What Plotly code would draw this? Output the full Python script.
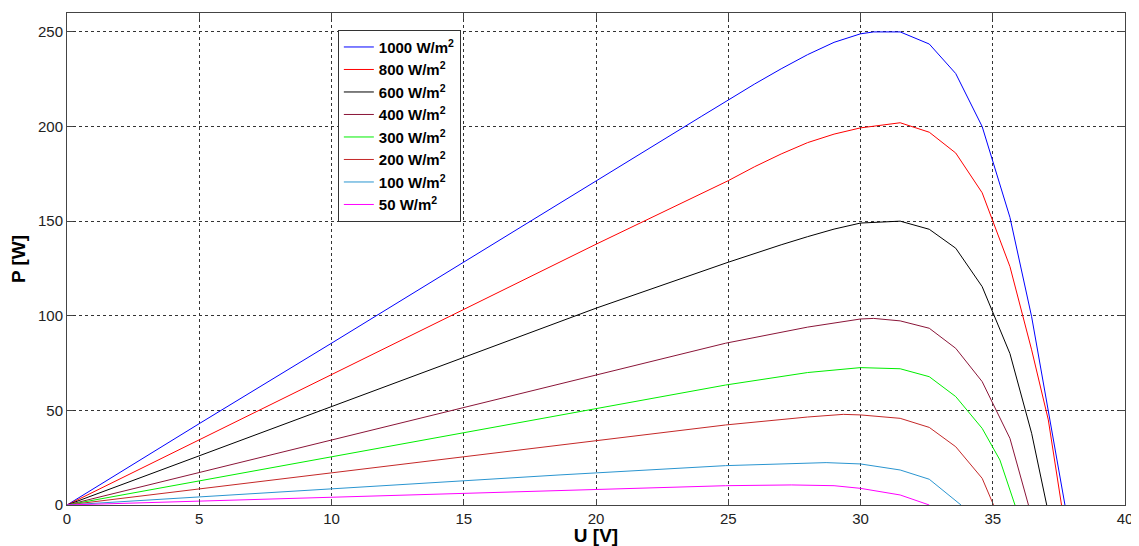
import plotly.graph_objects as go

labels = ["1000 W/m<sup>2</sup>", "800 W/m<sup>2</sup>", "600 W/m<sup>2</sup>", "400 W/m<sup>2</sup>",
          "300 W/m<sup>2</sup>", "200 W/m<sup>2</sup>", "100 W/m<sup>2</sup>", "50 W/m<sup>2</sup>"]
colors = ["#0000ff", "#ff0000", "#000000", "#8a1538", "#00ee00", "#c42828", "#2a95d0", "#ff00ff"]

u_1000 = [0, 5, 10, 15, 20, 22, 24, 25, 26, 27, 28, 29, 30, 30.5, 31.5, 32.6, 33.6, 34.6, 35.65, 36.47, 37.1, 37.73]
p_1000 = [0, 43, 85.5, 128.5, 171.5, 188.5, 205.5, 214, 222.5, 230.5, 238, 244.5, 249, 250, 250, 243.6, 228, 200, 152, 99.5, 50, 0]

u_800 = [0, 5, 10, 15, 20, 25, 26, 27, 28, 29, 30, 30.4, 31.5, 32.6, 33.6, 34.6, 35.65, 36.47, 37.1, 37.6]
p_800 = [0, 34.4, 68.8, 103.3, 137.8, 171.4, 178.8, 185.5, 191.5, 196, 199.3, 200, 202, 197, 186, 165, 126, 82, 45, 0]

u_600 = [0, 5, 10, 15, 20, 25, 26, 27, 28, 29, 30, 31.5, 32.6, 33.6, 34.6, 35.65, 36.47, 37.04]
p_600 = [0, 26, 52, 78, 104, 128.3, 133, 137.5, 141.8, 145.8, 149, 150, 145.7, 135.7, 115.4, 80, 37.9, 0]

u_400 = [0, 5, 10, 15, 18.64, 20, 24.9, 28, 30, 30.5, 31.5, 32.6, 33.6, 34.6, 35.65, 36.35]
p_400 = [0, 17.2, 34.3, 51.5, 64, 68.6, 85.5, 94, 98.3, 98.6, 97.3, 93.4, 82.8, 65.2, 35.2, 0]

u_300 = [0, 5, 10, 15, 18.64, 24.9, 28, 30, 31.5, 32.6, 33.6, 34.6, 35.27, 35.84]
p_300 = [0, 12.8, 25.5, 38.3, 47.6, 63.4, 70, 72.6, 72, 67.8, 57.3, 40.5, 23.8, 0]

u_200 = [0, 5, 10, 15, 18.64, 24.9, 28, 29.35, 30, 31.5, 32.6, 33.6, 34.6, 35.03]
p_200 = [0, 8.5, 17, 25.5, 31.7, 42.3, 46.5, 47.9, 47.6, 45.8, 41, 30.8, 14.1, 0]

u_100 = [0, 5, 10, 15, 18.64, 24.9, 28.7, 30, 31.5, 32.6, 33.8]
p_100 = [0, 4.3, 8.6, 12.9, 15.9, 20.8, 22.4, 21.7, 18.5, 13.6, 0]

u_50 = [0, 5, 10, 15, 18.64, 24.9, 27.4, 29, 30, 31.5, 32.6]
p_50 = [0, 2.1, 4.2, 6.3, 7.9, 10.2, 10.6, 10.2, 8.8, 5.3, 0]

series_u = [u_1000, u_800, u_600, u_400, u_300, u_200, u_100, u_50]
series_p = [p_1000, p_800, p_600, p_400, p_300, p_200, p_100, p_50]

x_ticks = [0, 5, 10, 15, 20, 25, 30, 35, 40]
y_ticks = [0, 50, 100, 150, 200, 250]

FONT = "Liberation Sans, Arial"

fig = go.Figure()
for lab, col, u, p in zip(labels, colors, series_u, series_p):
    fig.add_trace(go.Scatter(x=u, y=p, mode="lines", name="<b>" + lab + "</b>",
                             line=dict(color=col, width=1)))

axis_common = dict(showgrid=True, gridcolor="#333333", griddash="dot", gridwidth=1,
                   showline=True, linecolor="#444444", linewidth=1, mirror="allticks",
                   ticks="inside", ticklen=6, tickcolor="#444444", automargin=False,
                   zeroline=False, tickfont=dict(family=FONT, size=15, color="#222222"))

fig.update_xaxes(range=[0, 40], tickvals=x_ticks, **axis_common,
                 title=dict(text="<b>U [V]</b>", font=dict(family=FONT, size=19, color="#000"), standoff=2))
fig.update_yaxes(range=[0, 260], tickvals=y_ticks, **axis_common,
                 title=dict(text="<b>P [W]</b>", font=dict(family=FONT, size=19, color="#000"), standoff=14))

fig.update_layout(
    width=1131, height=538,
    margin=dict(l=59, r=14, t=5, b=41),
    plot_bgcolor="white", paper_bgcolor="white",
    legend=dict(x=0.256, y=0.966, xanchor="left", yanchor="top",
                bgcolor="white", bordercolor="#333333", borderwidth=1,
                font=dict(family=FONT, size=15, color="#000"),
                tracegroupgap=0, itemwidth=30),
    showlegend=True,
)

fig.write_html("out.html")
